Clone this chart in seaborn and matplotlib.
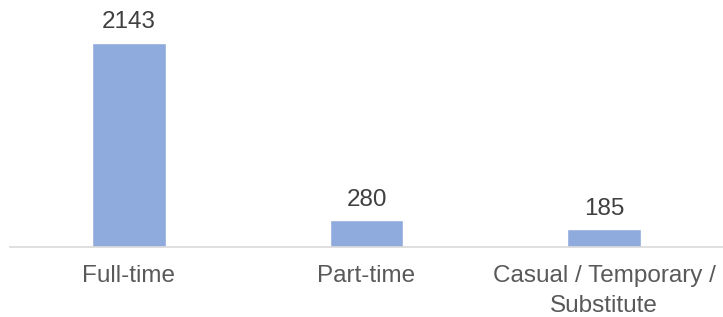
import matplotlib
matplotlib.use("Agg")
import matplotlib.pyplot as plt
import seaborn as sns
import pandas as pd

categories = ["Full-time", "Part-time", "Casual / Temporary /\nSubstitute"]
counts = [2143, 280, 185]

sns.set_theme(style="white")
plt.rcParams['font.family'] = ['Liberation Sans', 'DejaVu Sans']

df = pd.DataFrame({"type": categories, "count": counts})

fig = plt.figure(figsize=(7.23, 3.17), dpi=100)
ax = fig.add_axes([10 / 723, 70 / 317, 713 / 723, 247 / 317])

sns.barplot(data=df, x="type", y="count", color="#8FAADC", saturation=1,
            width=0.31, ax=ax)

ax.set_ylim(0, 2143 * 247 / 204)
ax.set_xlim(-0.5, 2.5)

# value labels above bars
for p, v in zip(ax.patches, counts):
    ax.annotate(str(v), (p.get_x() + p.get_width() / 2, p.get_height()),
                xytext=(0, 7), textcoords="offset points",
                ha="center", va="bottom", fontsize=17.5, color="#404040")

for s in ["top", "right", "left"]:
    ax.spines[s].set_visible(False)
ax.spines["bottom"].set_color("#D9D9D9")
ax.spines["bottom"].set_linewidth(1.2)

ax.set_yticks([])
ax.set_xlabel("")
ax.set_ylabel("")
ax.tick_params(axis="x", length=0, pad=13, labelsize=17.5, colors="#595959")
for lbl in ax.get_xticklabels():
    lbl.set_linespacing(1.45)

fig.savefig("out.png", dpi=100)
